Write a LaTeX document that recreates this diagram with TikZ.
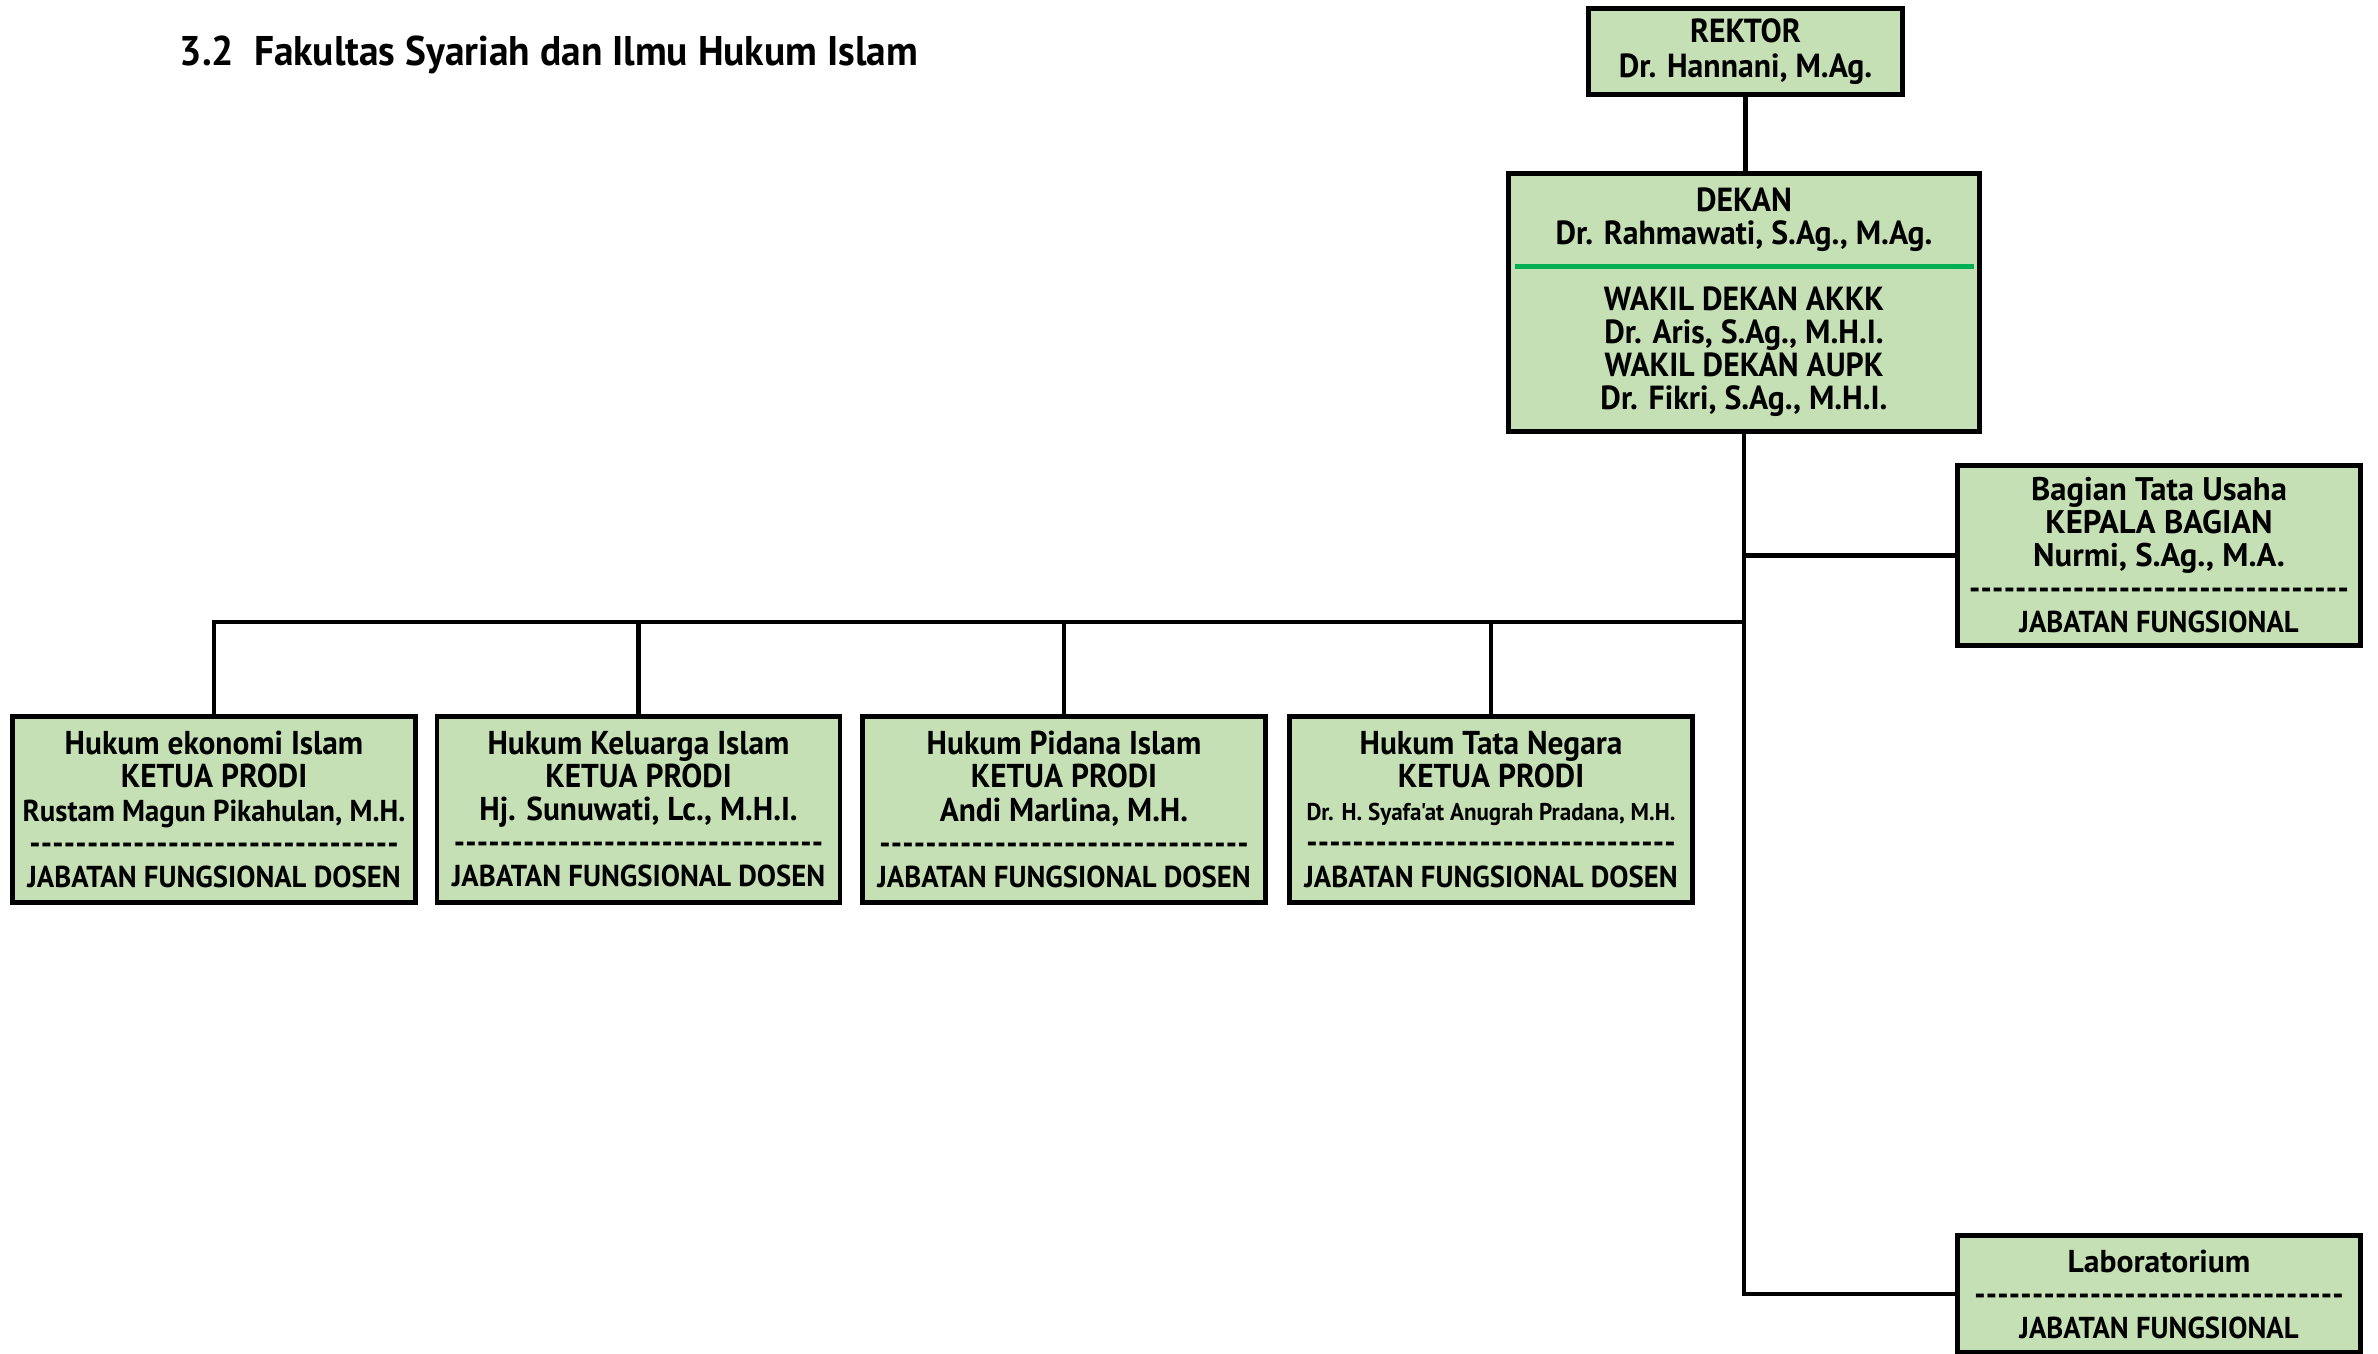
\documentclass[tikz,border=0pt]{standalone}
\usepackage{fontspec}
\newfontfamily\orgfont{PT Sans}[FakeStretch=0.95]
\newfontfamily\lebarfont{PT Sans}
\definecolor{hijaumuda}{RGB}{197,224,180}
\definecolor{hijaugaris}{RGB}{0,176,80}
\newcommand{\garis}[1]{\hbox to #1{\xleaders\hbox{-}\hfill}}
\newcommand{\kecil}{\fontsize{8.6}{9.4}\selectfont}
\newcommand{\lebar}[1]{{\lebarfont\fontsize{#1}{9.4}\selectfont}}
\tikzset{
  kotak/.style={draw=black, line width=1.4pt, fill=hijaumuda, align=center,
    inner sep=0pt, outer sep=0pt,
    font=\orgfont\bfseries\fontsize{9.4}{9.4}\selectfont},
  prodi/.style={kotak, minimum width=4.03cm, minimum height=1.86cm},
  unit/.style={kotak, minimum width=4.03cm},
  garishubung/.style={line width=1.4pt, black}
}
\begin{document}
\begin{tikzpicture}
\useasboundingbox (0,0) rectangle (23.78,13.53);
\node[anchor=west, inner sep=0pt, font=\orgfont\bfseries\fontsize{11.8}{13}\selectfont] (judul) at (1.79,12.98) {3.2\ \ Fakultas Syariah dan Ilmu Hukum Islam};
\node[kotak, minimum width=3.14cm, minimum height=0.86cm, font=\orgfont\bfseries\fontsize{9.5}{10}\selectfont] (rektor) at (17.455,13.015) {REKTOR\\Dr. Hannani, M.Ag.};
\node[kotak, minimum width=4.71cm, minimum height=2.58cm, font=\orgfont\bfseries\fontsize{9.5}{9.4}\selectfont] (dekan) at (17.44,10.505) {DEKAN\\Dr. Rahmawati, S.Ag., M.Ag.\\[9.4pt]WAKIL DEKAN AKKK\\Dr. Aris, S.Ag., M.H.I.\\WAKIL DEKAN AUPK\\Dr. Fikri, S.Ag., M.H.I.};
\draw[hijaugaris, line width=1.2pt] ([shift={(0.06,0.36)}]dekan.west) -- ([shift={(-0.06,0.36)}]dekan.east);
\node[unit, minimum height=1.80cm] (tu) at (21.59,7.975) {{\lebarfont\fontsize{9.3}{9.4}\selectfont Bagian Tata Usaha}\\{\lebarfont\fontsize{9.3}{9.4}\selectfont KEPALA BAGIAN}\\{\lebarfont\fontsize{9.3}{9.4}\selectfont Nurmi, S.Ag., M.A.}\\\garis{3.8cm}\\{\kecil JABATAN FUNGSIONAL}};
\node[unit, minimum height=1.17cm] (lab) at (21.59,0.59) {{\lebarfont\fontsize{9.0}{9.4}\selectfont Laboratorium}\\\garis{3.7cm}\\{\kecil JABATAN FUNGSIONAL}};
\node[prodi] (hes) at (2.14,5.435) {Hukum ekonomi Islam\\KETUA PRODI\\{\kecil Rustam Magun Pikahulan, M.H.}\\\garis{3.7cm}\\{\kecil JABATAN FUNGSIONAL DOSEN}};
\node[prodi] (hki) at (6.385,5.435) {Hukum Keluarga Islam\\KETUA PRODI\\Hj. Sunuwati, Lc., M.H.I.\\\garis{3.7cm}\\{\kecil JABATAN FUNGSIONAL DOSEN}};
\node[prodi] (hpi) at (10.64,5.435) {Hukum Pidana Islam\\KETUA PRODI\\Andi Marlina, M.H.\\\garis{3.7cm}\\{\kecil JABATAN FUNGSIONAL DOSEN}};
\node[prodi] (htn) at (14.91,5.435) {Hukum Tata Negara\\KETUA PRODI\\{\fontsize{6.9}{9.4}\selectfont Dr. H. Syafa'at Anugrah Pradana, M.H.}\\\garis{3.7cm}\\{\kecil JABATAN FUNGSIONAL DOSEN}};
\coordinate (bus) at (17.45,7.31);
\draw[garishubung] (rektor.south) -- (rektor.south |- dekan.north);
\draw[garishubung] (dekan.south) |- (lab.west);
\draw[garishubung] (tu.west) -- (tu.west -| bus);
\draw[garishubung] (hes.north) |- (bus);
\draw[garishubung] (hki.north) -- (hki.north |- bus);
\draw[garishubung] (hpi.north) -- (hpi.north |- bus);
\draw[garishubung] (htn.north) -- (htn.north |- bus);
\end{tikzpicture}
\end{document}
